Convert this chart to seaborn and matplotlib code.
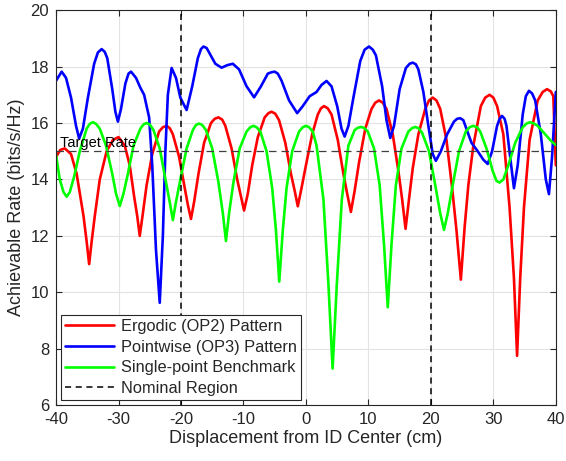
import matplotlib

matplotlib.use("Agg")

import matplotlib.pyplot as plt
import pandas as pd
import seaborn as sns

# values (displacement in cm, rate in bits/s/Hz)
ERGODIC_X = [
    -40.0, -39.3, -38.6, -37.6, -36.7, -35.6, -35.1, -34.7, -34.3, -33.8, -33.0, -31.9, -30.9,
    -30.0, -29.0, -28.2, -27.5, -27.0, -26.6, -26.1, -25.5, -24.6, -23.5, -22.9,
    -22.3, -21.8, -21.3, -20.3, -19.4, -18.9, -18.4, -17.9, -17.2, -16.3, -15.2, -14.6,
    -14.0, -13.4, -12.9, -11.9, -11.0, -10.4, -9.9, -9.3, -8.6, -7.7, -6.6, -6.0,
    -5.5, -4.9, -4.3, -3.3, -2.4, -1.8, -1.3, -0.7, 0.0, 1.0, 1.9, 2.4,
    2.9, 3.5, 4.1, 5.1, 6.0, 6.6, 7.2, 7.8, 8.5, 9.5, 10.5, 11.1,
    11.7, 12.3, 12.9, 13.9, 14.8, 15.4, 15.95, 16.5, 17.1, 18.0, 19.1, 19.7,
    20.3, 20.9, 21.5, 22.5, 23.4, 24.1, 24.8, 25.4, 26.0, 26.8, 28.0, 28.7,
    29.4, 30.0, 30.6, 31.6, 32.6, 33.3, 33.8, 34.3, 34.9, 35.8, 37.1, 37.9,
    38.6, 39.2, 39.6, 40.0,
]
ERGODIC_Y = [
    14.8, 15.05, 15.1, 14.9, 14.2, 12.7, 11.8, 11.0, 11.8, 12.7, 14.0, 15.0, 15.4,
    15.5, 15.2, 14.5, 13.4, 12.7, 12.0, 12.8, 13.8, 14.9, 15.7, 15.85,
    15.9, 15.82, 15.6, 14.8, 13.7, 13.1, 12.6, 13.2, 14.2, 15.3, 16.0, 16.15,
    16.2, 16.12, 15.9, 15.1, 14.0, 13.4, 12.9, 13.5, 14.5, 15.5, 16.2, 16.35,
    16.4, 16.33, 16.1, 15.3, 14.2, 13.6, 13.05, 13.7, 14.5, 15.6, 16.3, 16.52,
    16.6, 16.52, 16.3, 15.4, 14.2, 13.5, 12.85, 13.6, 14.6, 15.8, 16.5, 16.72,
    16.8, 16.72, 16.5, 15.6, 14.3, 13.3, 12.25, 13.3, 14.4, 15.6, 16.5, 16.8,
    16.9, 16.8, 16.5, 15.4, 13.7, 12.2, 10.45, 12.3, 13.8, 15.2, 16.6, 16.9,
    17.0, 16.9, 16.6, 15.6, 13.0, 10.5, 7.75, 10.5, 13.0, 15.4, 16.8, 17.1,
    17.2, 17.12, 16.95, 14.5,
]

POINTWISE_X = [
    -40.0, -39.1, -38.4, -37.6, -36.8, -36.3, -35.7, -34.9, -33.9, -33.3, -32.7, -32.2, -31.8, -31.0,
    -30.5, -30.1, -29.6, -28.9, -28.4, -28.0, -27.2, -26.5, -25.9, -25.1, -24.6, -24.0,
    -23.4, -22.9, -22.5, -22.1, -21.5, -20.8, -20.1, -19.1, -18.2, -17.3, -16.8, -16.4,
    -15.9, -15.5, -14.5, -13.5, -12.6, -11.7, -10.7, -9.5, -8.3, -7.2, -6.1, -5.5, -5.0,
    -4.5, -3.9, -2.7, -1.4, -0.5, 0.6, 1.7, 2.5, 3.3, 4.1, 5.0, 5.7, 6.2, 6.8,
    7.6, 8.7, 9.4, 10.1, 10.7, 11.2, 12.2, 12.9, 13.5, 14.1, 15.0, 16.0, 16.6, 17.1, 17.6, 18.0,
    18.8, 19.6, 20.3, 20.8, 21.6, 22.6, 23.7, 24.2, 24.7, 25.2, 25.6, 26.5, 27.5, 28.4,
    29.1, 29.8, 30.6, 31.0, 31.4, 31.8, 32.1, 32.8, 33.3, 33.9, 34.7, 35.2, 35.7, 36.2, 36.7, 37.6,
    38.4, 38.9, 39.4, 40.0,
]
POINTWISE_Y = [
    17.5, 17.82, 17.6, 16.9, 15.9, 15.45, 15.8, 16.9, 18.1, 18.5, 18.62, 18.52, 18.3, 17.2,
    16.4, 16.05, 16.5, 17.4, 17.75, 17.82, 17.6, 17.25, 17.0, 16.2, 14.5, 11.5,
    9.63, 12.0, 15.0, 17.0, 17.95, 17.6, 16.9, 16.46, 17.3, 18.3, 18.62, 18.71,
    18.66, 18.5, 18.1, 17.96, 18.05, 18.1, 17.9, 17.3, 16.91, 17.3, 17.75, 17.8, 17.82,
    17.75, 17.5, 16.8, 16.35, 16.6, 16.95, 17.1, 17.35, 17.49, 17.3, 16.6, 15.8, 15.52, 15.9,
    16.9, 18.2, 18.6, 18.71, 18.6, 18.4, 17.3, 16.1, 15.47, 15.9, 17.2, 17.95, 18.1, 18.14, 18.08, 17.9,
    17.1, 15.9, 14.9, 14.66, 15.0, 15.6, 16.05, 16.15, 16.17, 16.1, 15.85, 15.3, 15.0, 14.7,
    14.55, 15.0, 15.9, 16.15, 16.25, 16.15, 15.9, 14.6, 13.69, 14.5, 16.3, 16.95, 17.14, 17.05, 16.8, 15.6,
    14.0, 13.48, 14.8, 17.1,
]

SINGLE_X = [
    -40.0, -39.4, -38.8, -38.3, -37.8, -37.1, -36.2, -35.1, -34.6, -34.1, -33.6,
    -33.0, -32.0, -31.0, -30.4, -29.8, -29.2, -28.5, -27.6, -26.5, -26.0, -25.5, -25.0,
    -24.4, -23.4, -22.4, -21.8, -21.3, -20.8, -20.1, -19.1, -18.1, -17.6, -17.1, -16.6,
    -16.0, -15.0, -14.0, -13.3, -12.8, -12.3, -11.6, -10.6, -9.5, -8.9, -8.4, -7.9,
    -7.3, -6.3, -5.4, -4.8, -4.27, -3.7, -3.1, -2.2, -1.1, -0.5, 0.0, 0.5,
    1.1, 1.7, 2.8, 3.6, 4.27, 4.95, 5.75, 6.8, 7.8, 8.3, 8.8, 9.3,
    9.9, 10.9, 11.8, 12.5, 13.1, 13.7, 14.4, 15.3, 16.4, 17.0, 17.5, 18.0,
    18.6, 19.7, 20.7, 21.5, 22.1, 22.7, 23.5, 24.5, 25.6, 26.2, 26.8, 27.4,
    27.9, 28.9, 29.9, 30.5, 31.0, 31.6, 32.4, 33.5, 34.7, 35.3, 35.9, 36.5,
    37.1, 38.3, 39.3, 40.0,
]
SINGLE_Y = [
    14.87, 14.0, 13.55, 13.39, 13.55, 14.1, 15.0, 15.8, 15.97, 16.03, 15.97,
    15.8, 15.2, 14.2, 13.5, 13.06, 13.5, 14.2, 15.2, 15.8, 15.95, 16.0, 15.95,
    15.75, 15.1, 13.9, 13.2, 12.56, 13.2, 14.0, 15.1, 15.75, 15.93, 15.98, 15.93,
    15.75, 15.1, 13.9, 12.8, 11.82, 12.8, 13.9, 15.1, 15.7, 15.85, 15.9, 15.85,
    15.7, 15.0, 13.7, 12.2, 10.38, 12.2, 13.7, 15.0, 15.7, 15.85, 15.9, 15.85,
    15.7, 15.2, 13.3, 10.3, 7.3, 10.3, 13.3, 15.2, 15.75, 15.83, 15.86, 15.83,
    15.7, 15.1, 13.8, 11.7, 9.47, 11.7, 13.8, 15.1, 15.7, 15.82, 15.86, 15.82,
    15.65, 15.0, 13.8, 12.8, 12.21, 12.8, 13.8, 15.0, 15.7, 15.85, 15.9, 15.85,
    15.7, 15.1, 14.3, 13.95, 13.89, 14.0, 14.5, 15.3, 15.85, 15.98, 16.03, 15.98,
    15.9, 15.6, 15.35, 15.22,
]

TARGET_RATE = 15
NOMINAL_EDGES = [-20, 20]
X_TICKS = [-40, -30, -20, -10, 0, 10, 20, 30, 40]
Y_TICKS = [6, 8, 10, 12, 14, 16, 18, 20]


def main():
    sns.set_theme(style="whitegrid")
    plt.rcParams["font.family"] = ["Liberation Sans", "DejaVu Sans"]
    plt.rcParams["axes.unicode_minus"] = False

    fig = plt.figure(figsize=(5.66, 4.61), dpi=100)
    ax = fig.add_axes([0.099, 0.121, 0.883, 0.857])

    series = [
        (ERGODIC_X, ERGODIC_Y, "Ergodic (OP2) Pattern", "#ff0000"),
        (POINTWISE_X, POINTWISE_Y, "Pointwise (OP3) Pattern", "#0000ff"),
        (SINGLE_X, SINGLE_Y, "Single-point Benchmark", "#00ff00"),
    ]
    for xs, ys, label, color in series:
        df = pd.DataFrame({"x": xs, "y": ys})
        sns.lineplot(data=df, x="x", y="y", ax=ax, color=color, linewidth=1.9, label=label, sort=False)

    ax.axhline(TARGET_RATE, color="#404040", linestyle=(0, (6, 4)), linewidth=0.9)
    ax.text(-39.3, TARGET_RATE + 0.05, "Target Rate", fontsize=10.5, ha="left", va="bottom", color="black")
    for i, edge in enumerate(NOMINAL_EDGES):
        ax.axvline(edge, color="black", linestyle=(0, (4, 3)), linewidth=1.1,
                   label="Nominal Region" if i == 0 else None)

    ax.set_xlim(-40, 40)
    ax.set_ylim(6, 20)
    ax.set_xticks(X_TICKS)
    ax.set_yticks(Y_TICKS)
    ax.set_xlabel("Displacement from ID Center (cm)", fontsize=13, color="#262626", labelpad=2)
    ax.set_ylabel("Achievable Rate (bits/s/Hz)", fontsize=13, color="#262626", labelpad=4)
    ax.tick_params(direction="in", length=4, width=0.8, labelsize=12, colors="#262626", pad=5,
                   top=True, right=True, bottom=True, left=True)
    ax.grid(True, color="#e3e3e3", linewidth=0.8)
    for spine in ax.spines.values():
        spine.set_color("#262626")
        spine.set_linewidth(0.8)

    leg = ax.legend(loc="lower left", fontsize=11.8, frameon=True, fancybox=False, framealpha=1,
                    edgecolor="#262626", borderpad=0.25, labelspacing=0.35, handlelength=3.0,
                    handletextpad=0.4, borderaxespad=0.3)
    leg.get_frame().set_linewidth(0.8)

    fig.savefig("out.png", dpi=100)
    plt.close(fig)


if __name__ == "__main__":
    main()
